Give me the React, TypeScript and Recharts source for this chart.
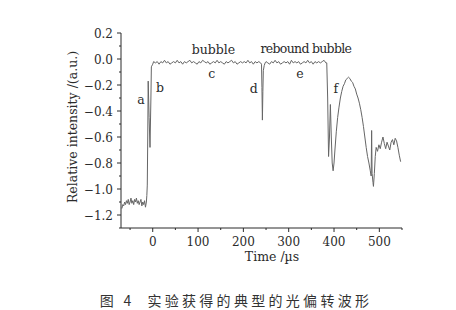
import React from 'react';
import { LineChart, Line, XAxis, YAxis, ReferenceDot } from 'recharts';

// trace, [time µs, relative intensity]
const preTrigger = [
  [-68, -1.15], [-66, -1.12], [-64, -1.13], [-62, -1.1], [-60, -1.12], [-58, -1.09], [-56, -1.11],
  [-54, -1.08], [-52, -1.12], [-50, -1.1], [-48, -1.07], [-46, -1.11], [-44, -1.09], [-42, -1.12],
  [-40, -1.08], [-38, -1.1], [-36, -1.07], [-34, -1.11], [-32, -1.09], [-30, -1.12], [-28, -1.1],
  [-26, -1.08], [-24, -1.13], [-22, -1.1], [-20, -1.12], [-18, -1.09], [-16, -1.14], [-14, -1.1],
];

const riseEdge = [
  [-13, -1.05], [-12, -0.97], [-11, -0.6], [-10, -0.17], [-8, -0.45], [-6, -0.68], [-4, -0.3],
  [-3, -0.06], [0, -0.04],
];

const bubblePlateau = [
  [2, -0.02], [6, -0.03], [10, -0.02], [14, -0.04], [18, -0.02], [22, -0.03], [26, -0.01], [30, -0.03],
  [34, -0.02], [38, -0.04], [42, -0.03], [46, -0.02], [50, -0.03], [54, -0.01], [58, -0.03], [62, -0.02],
  [66, -0.04], [70, -0.02], [74, -0.03], [78, -0.02], [82, -0.01], [86, -0.03], [90, -0.02], [94, -0.03],
  [98, -0.04], [102, -0.02], [106, -0.03], [110, -0.01], [114, -0.02], [118, -0.03], [122, -0.02],
  [126, -0.04], [130, -0.03], [134, -0.02], [138, -0.03], [142, -0.01], [146, -0.03], [150, -0.02],
  [154, -0.03], [158, -0.04], [162, -0.02], [166, -0.03], [170, -0.02], [174, -0.01], [178, -0.03],
  [182, -0.02], [186, -0.04], [190, -0.03], [194, -0.02], [198, -0.03], [202, -0.02], [206, -0.03],
  [210, -0.01], [214, -0.03], [218, -0.02], [222, -0.04], [226, -0.02], [230, -0.03], [234, -0.02],
  [238, -0.03],
];

const dSpike = [
  [240, -0.04], [241, -0.22], [242, -0.47], [243, -0.25], [244, -0.09], [246, -0.05], [248, -0.03],
];

const reboundPlateau = [
  [250, -0.02], [254, -0.03], [258, -0.04], [262, -0.02], [266, -0.03], [270, -0.01], [274, -0.03],
  [278, -0.02], [282, -0.04], [286, -0.03], [290, -0.02], [294, -0.03], [298, -0.02], [302, -0.04],
  [306, -0.01], [310, -0.03], [314, -0.02], [318, -0.03], [322, -0.02], [326, -0.04], [330, -0.03],
  [334, -0.02], [338, -0.03], [342, -0.01], [346, -0.03], [350, -0.02], [354, -0.04], [358, -0.02],
  [362, -0.03], [366, -0.02], [370, -0.03], [374, -0.02], [378, -0.01], [382, -0.03],
];

const fCollapse = [
  [384, -0.03], [386, -0.3], [388, -0.75], [390, -0.6], [392, -0.35], [394, -0.6], [396, -0.8],
  [398, -0.86], [400, -0.8], [402, -0.7], [405, -0.56], [408, -0.45], [411, -0.37], [414, -0.3],
  [417, -0.25], [420, -0.21], [423, -0.19], [426, -0.16], [429, -0.15], [432, -0.14], [435, -0.15],
  [438, -0.17], [441, -0.18], [444, -0.21], [447, -0.23], [450, -0.27], [453, -0.3], [456, -0.34],
  [459, -0.39], [462, -0.45], [465, -0.52], [468, -0.6], [471, -0.68], [474, -0.75], [477, -0.8],
  [480, -0.86], [482, -0.9], [483, -0.55], [484, -0.88], [486, -0.95], [487, -0.98], [489, -0.88],
  [491, -0.75], [493, -0.68], [496, -0.71], [499, -0.66], [502, -0.69], [505, -0.64], [508, -0.6],
  [511, -0.65], [514, -0.69], [517, -0.64], [520, -0.67], [523, -0.7], [526, -0.64], [529, -0.62],
  [532, -0.66], [535, -0.61], [538, -0.63], [541, -0.68], [544, -0.74], [547, -0.79],
];

const xTicks = [-50, 0, 50, 100, 150, 200, 250, 300, 350, 400, 450, 500, 550];
const yTicks = [0.2, 0.1, 0, -0.1, -0.2, -0.3, -0.4, -0.5, -0.6, -0.7, -0.8, -0.9, -1.0, -1.1, -1.2, -1.3];

// annotation letters placed in data units
const notes = [
  { text: 'bubble', t: 134, v: 0.075 },
  { text: 'c', t: 130, v: -0.11 },
  { text: 'a', t: -26, v: -0.31 },
  { text: 'b', t: 16, v: -0.22 },
  { text: 'd', t: 223, v: -0.23 },
  { text: 'rebound bubble', t: 338, v: 0.08 },
  { text: 'e', t: 325, v: -0.11 },
  { text: 'f', t: 404, v: -0.23 },
];

const data = [...preTrigger, ...riseEdge, ...bubblePlateau, ...dSpike, ...reboundPlateau, ...fCollapse]
  .map(([t, v]) => ({ t, v }));

const serif = '"DejaVu Serif", serif';
const ink = '#2b2b2b';

const fmt = (v: number) => (v < 0 ? '\u2212' + Math.abs(v).toFixed(1) : v.toFixed(1));

const XTick = ({ x, y, payload }: any) => {
  const major = payload.value % 100 === 0;
  return (
    <g>
      <line x1={x} x2={x} y1={y} y2={y + (major ? 4 : 2)} stroke={ink} />
      {major && (
        <text x={x} y={y + 18} textAnchor="middle" fontSize={12} fontFamily={serif} fill={ink}>
          {payload.value}
        </text>
      )}
    </g>
  );
};

const YTick = ({ x, y, payload }: any) => {
  const major = Math.round(payload.value * 10) % 2 === 0;
  return (
    <g>
      <line x1={x} x2={x - (major ? 4 : 2)} y1={y} y2={y} stroke={ink} />
      {major && (
        <text x={x - 8} y={y + 4.5} textAnchor="end" fontSize={12} fontFamily={serif} fill={ink}>
          {fmt(payload.value)}
        </text>
      )}
    </g>
  );
};

export default function App() {
  return (
    <div style={{ position: 'absolute', left: 0, top: 0, width: 456, height: 310, background: '#fff' }}>
      <LineChart width={456} height={270} data={data} margin={{ top: 33, right: 54, bottom: 2, left: 71 }}>
        <XAxis
          dataKey="t"
          type="number"
          domain={[-70, 550]}
          ticks={xTicks}
          interval={0}
          tickSize={0}
          tickMargin={0}
          tickLine={false}
          height={40}
          stroke={ink}
          tick={<XTick />}
          label={() => (
            <text x={272} y={261} textAnchor="middle" fontSize={12.5} fontFamily={serif} fill={ink}>
              Time /µs
            </text>
          )}
        />
        <YAxis
          type="number"
          domain={[-1.3, 0.2]}
          ticks={yTicks}
          interval={0}
          tickSize={0}
          tickMargin={0}
          tickLine={false}
          width={50}
          stroke={ink}
          tick={<YTick />}
          label={() => (
            <text
              x={72}
              y={127}
              transform="rotate(-90 72 127)"
              textAnchor="middle"
              dominantBaseline="central"
              fontSize={12.5}
              fontFamily={serif}
              fill={ink}
            >
              Relative intensity /(a.u.)
            </text>
          )}
        />
        <Line type="linear" dataKey="v" stroke="#666" strokeWidth={1} dot={false} isAnimationActive={false} />
        {notes.map((n) => (
          <ReferenceDot
            key={n.text}
            x={n.t}
            y={n.v}
            r={1}
            fill="none"
            stroke="none"
            ifOverflow="visible"
            label={{
              value: n.text,
              position: 'center',
              fontSize: 12.5,
              fontFamily: serif,
              fill: ink,
              letterSpacing: n.text.length > 6 ? -0.7 : 0,
            }}
          />
        ))}
      </LineChart>
      <div
        style={{
          position: 'absolute',
          left: 0,
          width: 456,
          top: 290,
          textAlign: 'center',
          fontFamily: '"Noto Sans CJK SC", sans-serif',
          fontSize: 14,
          letterSpacing: 3.3,
          color: '#333',
          whiteSpace: 'pre',
          paddingLeft: 8,
        }}
      >
        图 4  实验获得的典型的光偏转波形
      </div>
    </div>
  );
}
